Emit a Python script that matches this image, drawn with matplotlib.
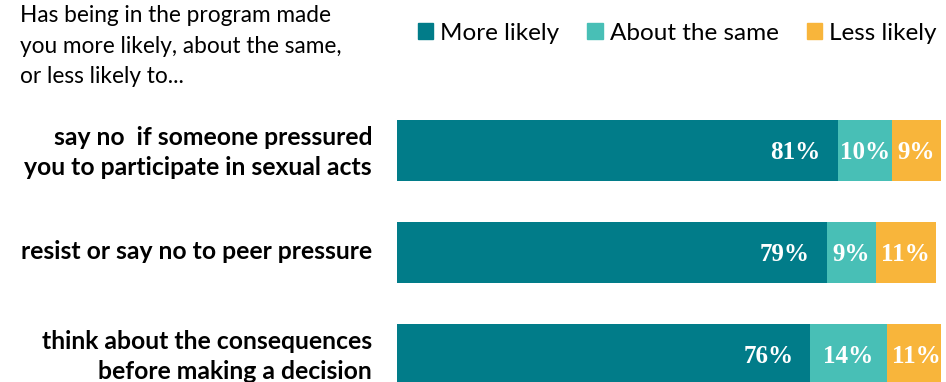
import matplotlib.pyplot as plt
import matplotlib.transforms as mtransforms
from matplotlib.patches import Patch

plt.rcParams['font.family'] = ['Lato', 'DejaVu Sans']

items = [
    "say no  if someone pressured\nyou to participate in sexual acts",
    "resist or say no to peer pressure",
    "think about the consequences\nbefore making a decision",
]
series = ["More likely", "About the same", "Less likely"]
more_likely = [81, 79, 76]
about_same = [10, 9, 14]
less_likely = [9, 11, 11]
colors = ["#017C89", "#48BFB6", "#F8B53B"]

W, H = 946, 382
fig = plt.figure(figsize=(W / 100, H / 100), dpi=100)

# axes from x=397..941 px, y=100..382 px
ax = fig.add_axes([397 / W, 0, (941 - 397) / W, (382 - 100) / H])
ax.set_xlim(0, 100)
ax.set_ylim(2.27, -0.495)

ypos = range(len(items))
left = [0] * len(items)
for vals, name, c in zip([more_likely, about_same, less_likely], series, colors):
    bars = ax.barh(ypos, vals, left=left, height=0.6, color=c, label=name,
                   clip_on=True)
    for i, (b, v) in enumerate(zip(bars, vals)):
        if name == "More likely":
            x = b.get_x() + b.get_width() - 3.1
            ha = "right"
        else:
            x = b.get_x() + b.get_width() / 2
            ha = "center"
        ax.text(x, i + 0.02, f"{v}%", ha=ha, va="center", color="white",
                fontsize=18, fontweight="bold", family="Liberation Serif",
                clip_on=True)
    left = [l + v for l, v in zip(left, vals)]

ax.set_yticks(list(ypos))
ax.set_yticklabels(items, fontsize=17.8, fontweight="bold", ha="right",
                   linespacing=1.33)
ax.tick_params(axis="y", length=0, pad=18)
ax.tick_params(axis="x", bottom=False, labelbottom=False)
# nudge the category labels up a little
shift = mtransforms.ScaledTranslation(0, 3 / 100, fig.dpi_scale_trans)
for lab in ax.get_yticklabels():
    lab.set_transform(lab.get_transform() + shift)
for s in ax.spines.values():
    s.set_visible(False)

fig.text(20 / W, 1 - 5 / H,
         "Has being in the program made\nyou more likely, about the same,\nor less likely to...",
         ha="left", va="top", fontsize=16.3, linespacing=1.57)

handles = [Patch(color=c) for c in colors]
fig.legend(handles, series, loc="center left", bbox_to_anchor=(418 / W, 1 - 33 / H),
           ncol=3, frameon=False, fontsize=17.5, handlelength=0.62, handleheight=0.62,
           handletextpad=0.3, columnspacing=1.15, borderaxespad=0, borderpad=0)

fig.savefig("out.png", dpi=100)
